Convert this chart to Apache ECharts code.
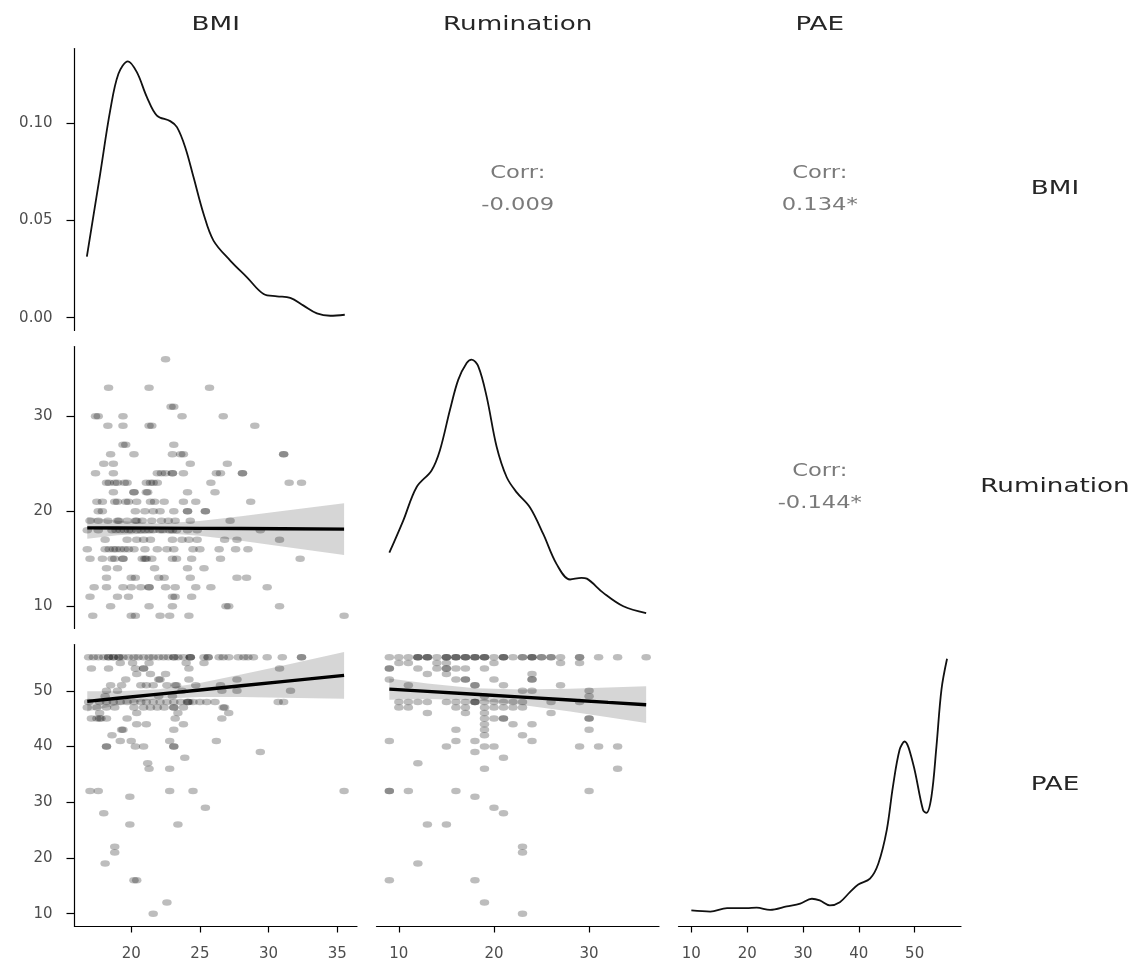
<!DOCTYPE html>
<html><head><meta charset="utf-8">
<script src="https://cdn.jsdelivr.net/npm/echarts@6/dist/echarts.min.js"></script>
<style>html,body{margin:0;padding:0;background:#fff}#c{width:1138px;height:965px}</style>
</head><body><div id="c"></div>
<script>
// ---------- data ----------
const variables = ['BMI', 'Rumination', 'PAE'];
const corrBMIRum = '-0.009';
const corrBMIPAE = '0.134*';
const corrRumPAE = '-0.144*';

const bmiTicks = [20, 25, 30, 35];
const rumTicks = [10, 20, 30];
const paeTicks = [10, 20, 30, 40, 50];
const densTicks = [0, 0.05, 0.10];

// density curves [x, density]
const bmiDensity = [[16.77,0.0314],[17.74,0.0741],[18.47,0.1067],[19.07,0.1256],[19.76,0.1320],[20.41,0.1264],[21.14,0.1136],[21.87,0.1041],[22.84,0.1012],[23.33,0.0981],[23.93,0.0878],[24.54,0.0723],[25.27,0.0534],[25.99,0.0397],[27.21,0.0294],[28.43,0.0208],[29.64,0.0122],[30.61,0.0110],[31.58,0.0102],[32.55,0.0062],[33.52,0.0022],[34.49,0.0010],[35.55,0.0015]];
const rumDensity = [[9.0,0.0221],[10.45,0.0333],[11.86,0.0451],[13.44,0.0510],[14.32,0.0581],[15.37,0.0722],[16.24,0.0828],[17.13,0.0887],[17.65,0.0899],[18.35,0.0875],[19.23,0.0769],[20.28,0.0593],[21.34,0.0486],[22.39,0.0433],[23.79,0.0380],[25.19,0.0286],[26.6,0.0180],[28.0,0.0127],[29.2,0.0133],[29.76,0.0130],[31.5,0.0080],[33.6,0.0033],[36.0,0.0009]];
const paeDensity = [[10.0,0.0015],[13.4,0.0010],[16.4,0.0026],[19.9,0.0026],[21.7,0.0028],[24.1,0.0018],[27.1,0.0034],[29.5,0.0047],[31.6,0.0070],[33.0,0.0062],[34.8,0.0039],[36.6,0.0054],[38.4,0.0101],[39.9,0.0137],[42.0,0.0164],[43.5,0.0235],[45.0,0.0391],[46.1,0.0594],[47.3,0.0767],[48.2,0.0806],[49.7,0.0704],[51.5,0.0485],[52.1,0.0472],[53.0,0.0547],[53.9,0.0782],[54.8,0.1049],[55.8,0.1193]];

// scatter: [y value, [x values...]]
const bmiRumRows = [
 [36,[22.5]],
 [33,[18.35,21.3,25.7]],
 [31,[22.9,23.1]],
 [30,[17.4,17.6,19.4,23.7,26.7]],
 [29,[18.3,19.4,21.3,21.5,29.0]],
 [27,[19.4,19.6,23.1]],
 [26,[18.5,20.2,23.0,23.6,23.8,31.1,31.1]],
 [25,[18.0,18.7,24.3,27.0]],
 [24,[17.4,18.7,21.9,22.2,22.5,23.0,23.0,23.8,26.2,26.5,28.1,28.1]],
 [23,[18.2,18.4,18.8,19.0,19.5,19.7,21.1,21.4,21.6,21.9,25.8,31.5,32.4]],
 [22,[18.7,20.2,20.2,21.1,21.2,24.1,26.1]],
 [21,[17.5,17.9,18.8,19.0,19.6,19.8,20.4,21.4,21.7,22.4,23.8,24.7,28.7]],
 [20,[17.6,17.9,20.3,21.0,21.6,22.1,23.1,24.1,24.1,25.4,25.4]],
 [19,[17.0,17.6,18.3,19.0,19.1,19.7,20.3,20.4,20.8,21.5,22.2,22.7,23.2,24.3,27.2]],
 [18,[16.8,17.6,18.6,18.9,19.2,19.5,19.8,20.0,20.4,20.7,21.0,21.3,21.6,22.1,22.3,22.8,23.0,23.3,24.1,24.8,29.4]],
 [17,[18.1,19.7,20.4,20.9,21.4,23.0,23.7,24.2,24.8,26.8,27.7,30.8]],
 [16,[16.8,18.1,18.4,18.7,18.9,19.2,19.5,19.8,20.2,21.0,21.9,22.6,23.1,24.5,25.0,26.4,27.6,28.5]],
 [15,[17.0,17.9,18.6,18.8,19.4,19.4,20.8,21.0,21.1,21.5,23.0,23.3,24.4,26.5,32.3]],
 [14,[18.2,19.0,21.7,24.1,25.3]],
 [13,[18.2,20.0,20.3,22.0,22.4,24.3,27.7,28.4]],
 [12,[17.3,18.2,19.4,20.0,20.7,21.3,21.3,22.5,23.2,24.7,25.8,29.9]],
 [11,[17.0,19.0,19.8,23.0,23.2,24.4]],
 [10,[18.5,21.3,23.0,26.9,27.1,30.8]],
 [9,[17.2,20.0,20.3,22.1,22.8,24.2,35.5]]
];
const bmiPaeRows = [
 [56,[16.9,17.25,17.6,18.0,18.35,18.35,18.7,18.7,19.1,19.1,19.4,19.8,20.2,20.5,20.9,21.3,21.6,22.0,22.35,22.7,23.1,23.1,23.4,23.8,24.3,24.3,24.3,25.3,25.6,25.6,26.4,26.7,27.1,27.8,28.2,28.5,28.9,29.9,31.0,32.4,32.4]],
 [55,[19.2,20.1,21.3,24.0,25.3]],
 [54,[17.1,18.35,20.3,20.9,20.9,24.2,30.8]],
 [53,[20.4,21.4,22.5]],
 [52,[19.6,22.0,22.1,24.2,27.7]],
 [51,[18.5,19.3,20.7,21.1,21.6,22.6,23.2,23.3,24.7,26.5]],
 [50,[18.2,19.0,23.7,26.6,27.7,31.6]],
 [49,[18.1,22.0,23.0]],
 [48,[16.9,17.7,18.2,18.7,19.2,19.7,20.2,20.7,21.1,21.6,22.1,22.6,23.1,23.6,24.1,24.1,24.2,24.5,25.0,25.5,26.1,30.7,31.1]],
 [47,[16.8,17.5,18.2,18.8,20.2,20.9,21.4,21.9,22.4,23.1,23.1,23.8,26.7,26.8]],
 [46,[17.7,20.4,23.4,27.1]],
 [45,[17.1,17.5,17.7,17.8,18.2,19.7,23.2,26.6]],
 [44,[20.4,21.1,23.8]],
 [43,[19.3,19.4,23.1]],
 [42,[18.6]],
 [41,[19.2,20.0,22.8,26.2]],
 [40,[18.2,18.2,20.3,20.9,23.1,23.1]],
 [39,[29.4]],
 [38,[23.9]],
 [37,[21.2]],
 [36,[21.3,22.8]],
 [32,[17.0,17.6,22.8,24.5,35.5]],
 [31,[19.9]],
 [29,[25.4]],
 [28,[18.0]],
 [26,[19.9,23.4]],
 [22,[18.8]],
 [21,[18.8]],
 [19,[18.1]],
 [16,[20.2,20.4]],
 [12,[22.6]],
 [10,[21.6]]
];
const rumPaeRows = [
 [56,[9,10,11,12,12,12,13,13,13,14,15,15,15,16,16,16,17,17,17,18,18,18,19,19,19,20,21,21,21,22,23,23,24,24,24,25,25,26,26,27,29,29,31,33,36]],
 [55,[10,11,14,15,20,27,29]],
 [54,[9,9,12,14,15,15,16,17,19]],
 [53,[13,15,24]],
 [52,[9,16,17,17,20,24,24]],
 [51,[11,18,18,21,27]],
 [50,[23,24,30]],
 [49,[19,30]],
 [48,[10,11,12,13,15,16,17,18,18,18,19,20,21,22,23,26,29]],
 [47,[10,11,16,17,19,20,21,22,23]],
 [46,[13,17,19,26]],
 [45,[19,20,21,21,30,30]],
 [44,[19,22,24]],
 [43,[16,19,30]],
 [42,[19,23]],
 [41,[9,16,18,24]],
 [40,[15,19,20,29,31,33]],
 [39,[18]],
 [38,[21]],
 [37,[12]],
 [36,[19,33]],
 [32,[9,9,11,16,30]],
 [31,[18]],
 [29,[20]],
 [28,[21]],
 [26,[13,15]],
 [22,[23]],
 [21,[23]],
 [19,[12]],
 [16,[9,18]],
 [12,[19]],
 [10,[23]]
];

// regression fits: [x, fit, lower, upper]
const bmiRumFit = [[16.8,18.25,17.10,19.40],[19,18.24,17.47,19.01],[22,18.22,17.74,18.70],[25,18.20,17.43,18.97],[28,18.18,16.88,19.48],[31,18.16,16.29,20.03],[35.5,18.12,15.40,20.85]];
const bmiPaeFit = [[16.8,48.10,46.30,49.90],[19,48.65,47.40,49.90],[22,49.40,48.55,50.25],[25,50.14,48.90,51.40],[28,50.89,48.90,52.90],[31,51.63,48.76,54.50],[35.5,52.75,48.55,56.95]];
const rumPaeFit = [[9,50.30,48.40,52.20],[13,49.89,48.50,51.28],[18,49.37,48.28,50.46],[23,48.85,47.46,50.24],[28,48.33,46.29,50.37],[32,47.91,45.25,50.57],[36,47.50,44.20,50.80]];

// ---------- layout ----------
const colLeft = [74.5, 376.5, 678.5];
const rowTop = [48.5, 346.5, 644.5];
const W = 282.5, H = 282;
const FONT = 'DejaVu Sans';

const ranges = {
  BMI: [15.87, 36.44], Rumination: [7.65, 37.35], PAE: [7.7, 58.3]
};
const densRange = {
  BMI: [-0.0066, 0.1386], Rumination: [-0.0045, 0.0945], PAE: [-0.006, 0.126]
};

const panels = [
  {r:0,c:0,x:'BMI',y:'dens',yv:'BMI'},
  {r:1,c:0,x:'BMI',y:'Rumination'},
  {r:1,c:1,x:'Rumination',y:'dens',yv:'Rumination'},
  {r:2,c:0,x:'BMI',y:'PAE'},
  {r:2,c:1,x:'Rumination',y:'PAE'},
  {r:2,c:2,x:'PAE',y:'dens',yv:'PAE'}
];
const ticksOf = {BMI: bmiTicks, Rumination: rumTicks, PAE: paeTicks};

const axisLineStyle = {color:'#000', width:1.2};
const labelStyle = {color:'#4d4d4d', fontSize:15, fontFamily:FONT};

const grid = [], xAxis = [], yAxis = [];
panels.forEach((p, i) => {
  grid.push({left: colLeft[p.c], top: rowTop[p.r], width: W, height: H, containLabel:false});
  const showX = p.r === 2;
  xAxis.push({
    type:'value', gridIndex:i, min: ranges[p.x][0], max: ranges[p.x][1],
    show: showX, splitLine:{show:false},
    axisLine:{show:true, onZero:false, lineStyle:axisLineStyle},
    axisTick:{show:true, length:6, customValues: ticksOf[p.x], lineStyle:axisLineStyle},
    axisLabel:{show:true, customValues: ticksOf[p.x], margin:20, ...labelStyle}
  });
  const showY = p.c === 0;
  if (p.y === 'dens') {
    yAxis.push({
      type:'value', gridIndex:i, min: densRange[p.yv][0], max: densRange[p.yv][1],
      show: showY, splitLine:{show:false},
      axisLine:{show:true, onZero:false, lineStyle:axisLineStyle},
      axisTick:{show:true, length:8, customValues: densTicks, lineStyle:axisLineStyle},
      axisLabel:{show:true, customValues: densTicks, margin:22, formatter: v => v.toFixed(2), ...labelStyle}
    });
  } else {
    yAxis.push({
      type:'value', gridIndex:i, min: ranges[p.y][0], max: ranges[p.y][1],
      show: showY, splitLine:{show:false},
      axisLine:{show:true, onZero:false, lineStyle:axisLineStyle},
      axisTick:{show:true, length:8, customValues: ticksOf[p.y], lineStyle:axisLineStyle},
      axisLabel:{show:true, customValues: ticksOf[p.y], margin:22, ...labelStyle}
    });
  }
});

function flatten(rows) {
  const out = [];
  rows.forEach(([yv, xs]) => xs.forEach(xv => out.push([xv, yv])));
  return out;
}

const series = [];
function densitySeries(idx, data) {
  series.push({type:'line', xAxisIndex:idx, yAxisIndex:idx, data, smooth:0.35, showSymbol:false,
    lineStyle:{color:'#111', width:1.8}, silent:true, z:3});
}
function fitSeries(idx, fit) {
  // confidence band as polygon positioned through the axis scales
  series.push({type:'custom', xAxisIndex:idx, yAxisIndex:idx, data:[0], silent:true, z:2, clip:true,
    renderItem: (params, api) => {
      const upper = fit.map(d => api.coord([d[0], d[3]]));
      const lower = fit.slice().reverse().map(d => api.coord([d[0], d[2]]));
      return {type:'polygon', shape:{points: upper.concat(lower)},
        style:{fill:'rgba(153,153,153,0.4)', stroke:null}};
    }});
  series.push({type:'line', xAxisIndex:idx, yAxisIndex:idx, data: fit.map(d => [d[0], d[1]]),
    showSymbol:false, lineStyle:{color:'#000', width:3.4}, silent:true, z:4});
}
function scatterSeries(idx, rows) {
  series.push({type:'scatter', xAxisIndex:idx, yAxisIndex:idx, data: flatten(rows),
    symbol:'circle', symbolSize:[9.5,6.5], itemStyle:{color:'rgba(0,0,0,0.32)'}, silent:true, z:3});
}

densitySeries(0, bmiDensity);
scatterSeries(1, bmiRumRows); fitSeries(1, bmiRumFit);
densitySeries(2, rumDensity);
scatterSeries(3, bmiPaeRows); fitSeries(3, bmiPaeFit);
scatterSeries(4, rumPaeRows); fitSeries(4, rumPaeFit);
densitySeries(5, paeDensity);

// ---------- text (strip labels, correlations) ----------
const graphic = [];
function addText(x, y, text, size, color, sx) {
  graphic.push({type:'text', x, y, scaleX:sx, silent:true,
    style:{text, fontSize:size, fontFamily:FONT, fill:color, align:'center', verticalAlign:'middle'}});
}
const colCenter = colLeft.map(l => l + W/2);
const rowCenter = rowTop.map(t => t + H/2);
variables.forEach((v, i) => addText(colCenter[i], 25, v, 19, '#262626', 1.38));
variables.forEach((v, i) => addText(1055, rowCenter[i], v, 19, '#262626', 1.38));
function addCorr(r, c, val) {
  addText(colCenter[c], rowCenter[r] - 16, 'Corr:', 17, '#7a7a7a', 1.33);
  addText(colCenter[c], rowCenter[r] + 16, val, 17, '#7a7a7a', 1.33);
}
addCorr(0, 1, corrBMIRum);
addCorr(0, 2, corrBMIPAE);
addCorr(1, 2, corrRumPAE);

const chart = echarts.init(document.getElementById('c'), null, {renderer:'canvas'});
chart.setOption({animation:false, backgroundColor:'#fff', grid, xAxis, yAxis, series, graphic});
</script>
</body></html>
